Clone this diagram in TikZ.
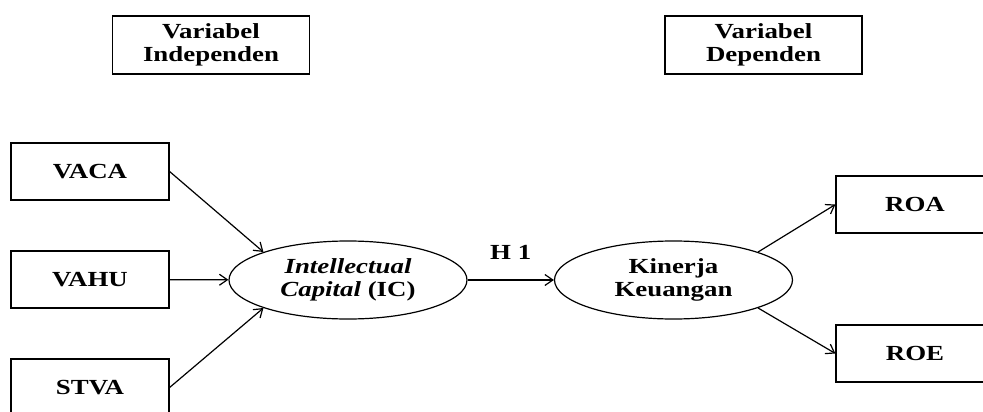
\documentclass[tikz,border=0pt]{standalone}
\usepackage{fontspec}
\setmainfont[FakeStretch=1.25]{Liberation Serif}
\usetikzlibrary{shapes.geometric}
\usetikzlibrary{arrows.meta}

\begin{document}
\begin{tikzpicture}[x=1pt,y=-1pt,line width=1.2pt,
    font=\fontsize{21.5}{23}\selectfont\bfseries,
    >={Straight Barb[length=8pt,width=11pt]}]
  \tikzstyle{ind}=[draw, rectangle, minimum width=158, minimum height=57, inner sep=0] % indicator boxes
  \tikzstyle{head}=[draw, rectangle, minimum width=197, minimum height=58, inner sep=0, align=center] % column headings
  \tikzstyle{lat}=[draw, ellipse, minimum width=238, minimum height=78, inner sep=0, align=center] % latent variables
  \useasboundingbox (0,0) rectangle (983,412);
  \clip (0,0) rectangle (983,412);

  % headings
  \node[head] (indep) at (211,45) {Variabel\\Independen};
  \node[head] (dep) at (763.5,45) {Variabel\\Dependen};

  % left side
  \node[ind] (vaca) at (90,171.5) {VACA};
  \node[ind] (vahu) at (90,279.5) {VAHU};
  \node[ind] (stva) at (90,387.5) {STVA};
  \node[lat] (ic) at (348,280) {\itshape Intellectual\\\itshape Capital \upshape(IC)};

  % right side
  \node[lat] (kk) at (673.5,280) {Kinerja\\Keuangan};
  \node[ind] (roa) at (915,204.5) {ROA};
  \node[ind] (roe) at (915,353.5) {ROE};

  \draw[->] (vaca.east) -- (ic.north west);
  \draw[->] (vahu) -- (ic);
  \draw[->] (stva.east) -- (ic.south west);
  \draw[->] (ic) -- node[above=20pt, inner sep=0] (h1) {H 1} (kk);
  \draw[->] (kk.north east) -- (roa.west);
  \draw[->] (kk.south east) -- (roe.west);
\end{tikzpicture}
\end{document}
